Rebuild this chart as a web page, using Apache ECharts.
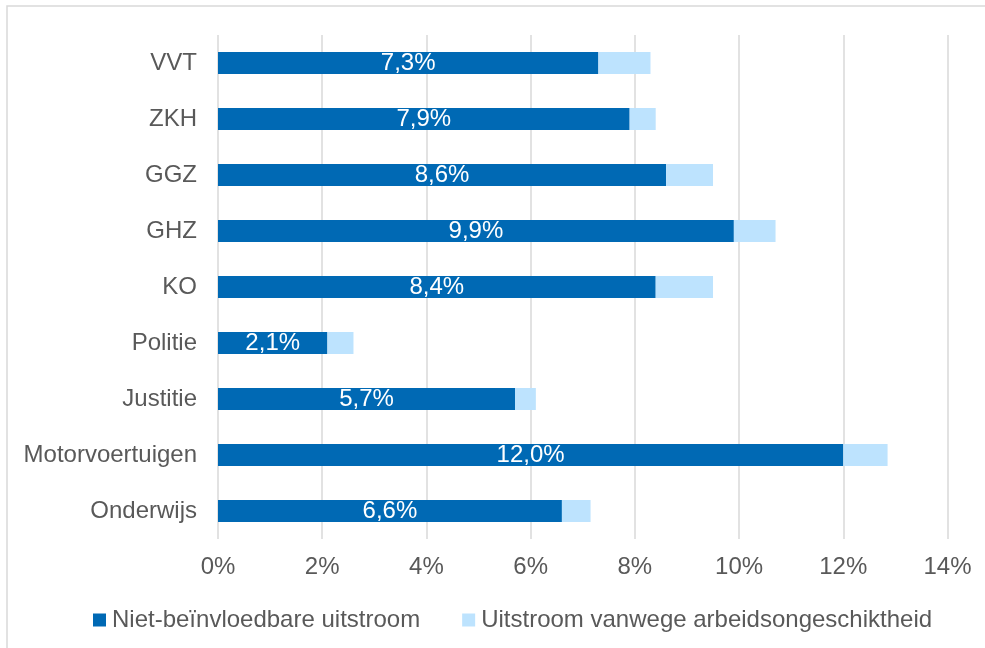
<!DOCTYPE html>
<html>
<head>
<meta charset="utf-8">
<script src="https://cdn.jsdelivr.net/npm/echarts@6/dist/echarts.min.js"></script>
<style>html,body{margin:0;padding:0;background:#fff;}#c{width:985px;height:648px;}</style>
</head>
<body>
<div id="c"></div>
<script>
const categories = ['VVT', 'ZKH', 'GGZ', 'GHZ', 'KO', 'Politie', 'Justitie', 'Motorvoertuigen', 'Onderwijs'];
const nietBeinvloedbaar = [7.3, 7.9, 8.6, 9.9, 8.4, 2.1, 5.7, 12.0, 6.6];
const arbeidsongeschikt = [1.0, 0.5, 0.9, 0.8, 1.1, 0.5, 0.4, 0.85, 0.55];
const xTicks = [0, 2, 4, 6, 8, 10, 12, 14];
const seriesNames = ['Niet-beïnvloedbare uitstroom', 'Uitstroom vanwege arbeidsongeschiktheid'];

const chart = echarts.init(document.getElementById('c'));
const font = 'Liberation Sans, Arial, sans-serif';
const fs = 24;
chart.setOption({
  animation: false,
  backgroundColor: '#fff',
  textStyle: { fontFamily: font },
  graphic: [{
    type: 'rect', silent: true,
    shape: { x: 7, y: 6, width: 1000, height: 700 },
    style: { fill: 'none', stroke: '#d9d9d9', lineWidth: 1.5 }
  }],
  grid: { left: 218, right: 37.5, top: 35, bottom: 109 },
  legend: {
    left: 93, top: 608, padding: 0,
    itemWidth: 13, itemHeight: 13, itemGap: 42,
    icon: 'rect',
    textStyle: { fontSize: fs, color: '#595959', fontFamily: font, padding: [0, 0, 0, 1] },
    data: seriesNames
  },
  xAxis: {
    type: 'value', min: xTicks[0], max: xTicks[xTicks.length - 1], interval: 2,
    axisLine: { show: false }, axisTick: { show: false },
    splitLine: { lineStyle: { color: '#d9d9d9', width: 1.5 } },
    axisLabel: { fontSize: fs, color: '#595959', margin: 16, formatter: v => v + '%' }
  },
  yAxis: {
    type: 'category', data: categories, inverse: true,
    axisLine: { show: false }, axisTick: { show: false },
    axisLabel: { fontSize: fs, color: '#595959', margin: 21 }
  },
  series: [{
    name: seriesNames[0], type: 'bar', stack: 't', data: nietBeinvloedbaar,
    barWidth: 22,
    itemStyle: { color: '#0069b4' },
    label: {
      show: true, position: 'inside', color: '#fff', fontSize: fs, fontFamily: font,
      formatter: p => p.value.toFixed(1).replace('.', ',') + '%'
    }
  }, {
    name: seriesNames[1], type: 'bar', stack: 't', data: arbeidsongeschikt,
    barWidth: 22,
    itemStyle: { color: '#bde3fe' }
  }]
});
</script>
</body>
</html>
